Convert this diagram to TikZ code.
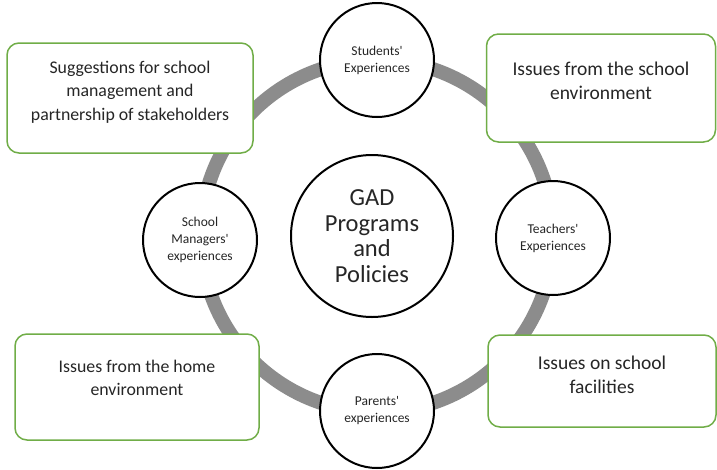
\documentclass[tikz,border=0pt]{standalone}
\usepackage{fontspec}
\setmainfont{Carlito}
\definecolor{ringgray}{HTML}{8C8C8C}
\definecolor{boxgreen}{HTML}{70AD47}
\newcommand{\apos}{\textquotesingle}

\begin{document}
\begin{tikzpicture}[x=1pt, y=-1pt,
  hub/.style={draw, circle, line width=2pt, fill=white, minimum size=162pt,
    inner sep=0pt, align=center, text=black!85, font=\fontsize{24.5}{25.5}\selectfont},
  view/.style={draw, circle, line width=2pt, fill=white, minimum size=114pt,
    inner sep=0pt, align=center, text=black!85, font=\fontsize{13.5}{17}\selectfont},
  issue/.style={draw=boxgreen, rectangle, rounded corners=12pt, line width=1.5pt,
    fill=white},
  issuetext/.style={align=center, text=black!85, font=\fontsize{19.5}{24.5}\selectfont},
  smalltext/.style={issuetext, font=\fontsize{17.8}{23.3}\selectfont},
  ring/.style={draw=ringgray, line width=14pt}
]
\useasboundingbox (0,0) rectangle (717,469);

% Ring behind the four experience circles
\coordinate (mid) at (377,236);
\draw[ring] (mid) circle[radius=176pt];

% Centre: GAD programs and policies
\node[hub] (gad) at (372,236) {GAD\\Programs\\and\\Policies};

% Experiences on the ring
\node[view] (students) at (377,60) {Students\apos\\Experiences};
\node[view] (teachers) at (553,238) {Teachers\apos\\Experiences};
\node[view] (parents) at (377,411) {Parents\apos\\experiences};
\node[view] (managers) at (200,240) {School\\Managers\apos\\experiences};

% Issue boxes in the corners
\node[issue, minimum width=246pt, minimum height=110pt,
  label={[smalltext, name=suggest-text, yshift=6pt]center:{Suggestions for school\\management and\\partnership of stakeholders}}]
  (suggest) at (130,98) {};
\node[issue, minimum width=229pt, minimum height=108pt,
  label={[issuetext, name=school-text, yshift=7pt]center:{Issues from the school\\environment}}]
  (school) at (601,88) {};
\node[issue, minimum width=244pt, minimum height=106pt,
  label={[smalltext, name=home-text, yshift=9pt]center:{Issues from the home\\environment}}]
  (home) at (137,387) {};
\node[issue, minimum width=228pt, minimum height=92pt,
  label={[issuetext, name=facility-text, yshift=6pt]center:{Issues on school\\facilities}}]
  (facility) at (602,381) {};

\end{tikzpicture}
\end{document}
